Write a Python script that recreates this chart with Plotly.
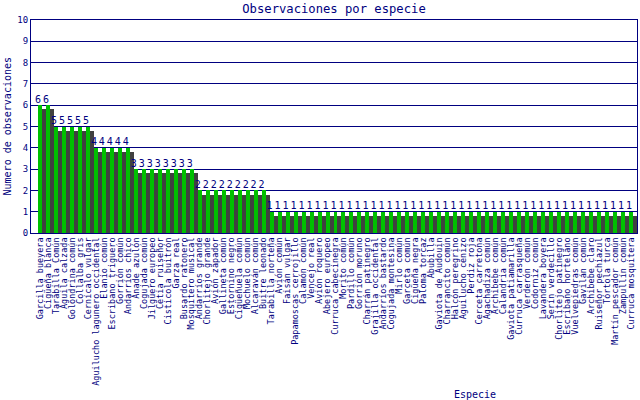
import plotly.graph_objs as go

especies = [
    "Garcilla bueyera", "Cigüeña blanca", "Tarabilla Común", "Águila calzada",
    "Golondrina común", "Collalba gris", "Cernícalo vulgar",
    "Aguilucho lagunero occidental", "Elanio común", "Escribano triguero",
    "Gorrión común", "Andarríos chico", "Ánade azulón", "Cogujada común",
    "Jilguero europeo", "Cetia ruiseñor", "Cisticola buitrón", "Garza real",
    "Busardo ratonero", "Mosquitero musical", "Andarríos grande",
    "Chorlitejo grande", "Avión zapador", "Gallineta común", "Estornino negro",
    "Cigüeñuela común", "Mochuelo común", "Alcaraván común", "Buitre leonado",
    "Tarabilla norteña", "Avión común", "Faisán vulgar", "Papamoscas cerrojillo",
    "Calamón común", "Vencejo real", "Avión roquero", "Abejero europeo",
    "Curruca cabecinegra", "Morito común", "Pardillo común", "Gorrión moruno",
    "Charrán patinegro", "Grajilla occidental", "Andarríos bastardo",
    "Cogujada montesina", "Mirlo común", "Garceta común", "Cigüeña negra",
    "Paloma torcaz", "Abubilla", "Gaviota de Audouin", "Charrancito común",
    "Halcón peregrino", "Aguilucho cenizo", "Perdiz roja", "Cerceta carretona",
    "Agachadiza común", "Archibebe común", "Calandria común",
    "Gaviota patiamarilla", "Curruca carrasqueña", "Verderón común",
    "Codorniz común", "Lavandera boyera", "Serín verdecillo",
    "Chorlitejo patinegro", "Escribano hortelano", "Vuelvepiedras común",
    "Gavilán común", "Archibebe claro", "Ruiseñor pechiazul", "Tórtola turca",
    "Martín pescador común", "Zampullín común", "Curruca mosquitera",
]
observaciones = [6, 6] + [5] * 5 + [4] * 5 + [3] * 8 + [2] * 9 + [1] * 46

NAVY = "#000080"
FONT = "DejaVu Sans Mono"

idx = list(range(len(especies)))
sombra = [v - 0.2 for v in observaciones]

fig = go.Figure()
# dark "3D" shadow to the right of each bar
fig.add_trace(go.Bar(x=idx, y=sombra, width=0.5, offset=0.25,
                     marker=dict(color="#404040", line=dict(width=0))))
fig.add_trace(go.Bar(x=idx, y=observaciones, width=0.5,
                     marker=dict(color="#00c000", line=dict(width=0))))
fig.add_trace(go.Scatter(x=[i - 0.25 for i in idx], y=observaciones,
                         mode="text", text=[str(v) for v in observaciones],
                         textposition="top center",
                         textfont=dict(family=FONT, size=10, color=NAVY),
                         cliponaxis=False))

fig.update_layout(
    width=640, height=400,
    margin=dict(l=31, r=3, t=20, b=167, autoexpand=False),
    paper_bgcolor="white", plot_bgcolor="white",
    barmode="overlay", bargap=0, showlegend=False,
    font=dict(family=FONT, color=NAVY),
    title=dict(text="Observaciones por especie", x=0.5, xref="paper",
               y=1 - 9 / 400, yanchor="middle",
               font=dict(family=FONT, size=12.2, color=NAVY)),
    xaxis=dict(range=[-1.125, 74.75], tickmode="array", tickvals=idx,
               ticktext=especies, tickangle=-90, showgrid=False,
               showline=True, linecolor=NAVY, linewidth=1, mirror=True,
               ticks="", zeroline=False, automargin=False,
               tickfont=dict(family=FONT, size=8.5, color=NAVY)),
    yaxis=dict(range=[0, 10], dtick=1, showgrid=True, gridcolor=NAVY,
               gridwidth=1, showline=True, linecolor=NAVY, linewidth=1,
               mirror=True, ticks="", zeroline=False, automargin=False,
               tickfont=dict(family=FONT, size=9, color=NAVY)),
    annotations=[
        dict(text="Numero de observaciones", textangle=-90, xref="paper",
             yref="paper", x=-0.038, y=0.5, xanchor="center",
             yanchor="middle", showarrow=False,
             font=dict(family=FONT, size=10, color=NAVY)),
        dict(text="Especie", xref="paper", yref="paper", x=0.733, y=-0.756,
             xanchor="center", yanchor="middle", showarrow=False,
             font=dict(family=FONT, size=10, color=NAVY)),
    ],
)

# drop the page's default body margin so the figure sits at the top-left
fig.write_html("out.html", config={"displayModeBar": False},
               post_script="document.body.style.margin='0';")
